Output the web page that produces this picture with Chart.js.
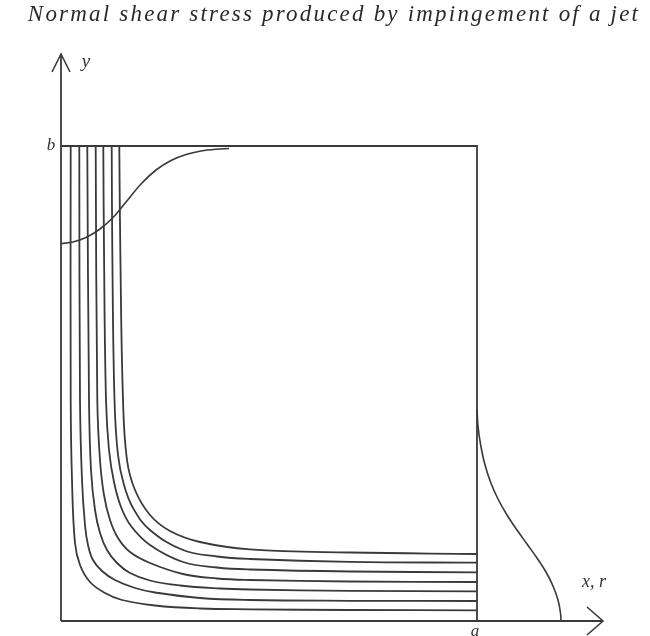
<!DOCTYPE html>
<html>
<head>
<meta charset="utf-8">
<script src="https://cdn.jsdelivr.net/npm/chart.js@4.4.1/dist/chart.umd.min.js"></script>
<style>
  html, body { margin: 0; padding: 0; background: #ffffff; }
  #wrap { width: 650px; height: 636px; position: relative; }
</style>
</head>
<body>
<div id="wrap"><canvas id="c" width="650" height="636"></canvas></div>
<script>
// ---- Data (units: x along plate, y along jet axis; origin at the corner) ----
const titleText = "Normal shear stress produced by impingement of a jet";
const labelA = "a";
const labelB = "b";
const labelY = "y";
const labelXR = "x, r";

const plateA = 416;   // x = a
const heightB = 475;  // y = b

// streamlines, innermost (1) to outermost (7): [x, y] pairs
const streamline1 = [[9.7,475],[9.7,221],[11,141],[14,78],[19,56],[29,39],[44,28],[61,21],[94,15.5],[139,12.5],[189,11.7],[289,11],[416,10.7]];
const streamline2 = [[18.3,475],[19,221],[21,141],[24,96],[27,76],[32,61],[41,50],[54,41],[74,33],[94,28.5],[139,23],[189,21],[289,20.2],[416,20]];
const streamline3 = [[26.3,475],[28,221],[30,151],[34,111],[39,88],[46,71],[56,58],[69,48],[89,40.5],[119,35.5],[159,32.5],[189,31.5],[289,30.2],[416,29.7]];
const streamline4 = [[34.7,475],[36.3,221],[39,161],[43,126],[49,101],[57,83],[69,69],[89,58],[122,47],[156,42.5],[189,41],[289,39.5],[416,39]];
const streamline5 = [[42.3,475],[43,371],[45,221],[48,171],[53,139],[60,114],[70,95],[89,76],[122,59],[156,53.5],[189,51.5],[289,49.5],[416,48.7]];
const streamline6 = [[50.7,475],[51.3,371],[53.5,221],[57,166],[63,136],[72,113],[89,91],[122,71],[156,64.5],[189,62],[289,59.2],[416,58.3]];
const streamline7 = [[58.3,475],[59.3,371],[62,221],[66,161],[74,131],[89,106],[109,90],[139,79],[189,71.7],[289,68.5],[416,67]];

// velocity profile of the jet near y = b
const jetProfile = [[0.5,377.5],[12,379],[25,383.5],[39,392],[52,403.5],[65,419],[80,437],[95,451],[110,460.5],[125,466.5],[140,470],[155,471.8],[168,472.5]];
// wall shear stress profile drawn beyond x = a
const stressProfile = [[416,212],[417,195],[419.5,177],[423.5,158],[429.5,139],[437,122],[446,106],[456,91],[466,77],[476,63],[485,49],[492,35],[497,21],[499.5,8],[500,0]];

// frame and axes
const boxOutline = [[0,heightB],[plateA,heightB],[plateA,0]];
const yAxisLine = [[0,0],[0,567]];
const xAxisLine = [[0,0],[542,0]];
const yArrowHead = [[-9,549],[0,567],[9,549]];
const xArrowHead = [[526,14],[542,0],[526,-14]];

// text label anchors
const labelPositions = {
  b: [-10, 475],
  a: [414, -11],
  y: [25, 559],
  xr: [533, 39]
};

// ---- Chart ----
const ink = '#3a3a3a';
const toXY = arr => arr.map(p => ({x: p[0], y: p[1]}));
function ds(arr, tension, width, mono) {
  const d = {
    data: toXY(arr),
    showLine: true,
    borderColor: ink,
    borderWidth: width,
    pointRadius: 0,
    pointHoverRadius: 0,
    tension: tension,
    fill: false,
    clip: false
  };
  if (mono) d.cubicInterpolationMode = 'monotone';
  return d;
}

const streams = [streamline1, streamline2, streamline3, streamline4, streamline5, streamline6, streamline7];
const datasets = [];
streams.forEach(s => datasets.push(ds(s, 0.4, 1.8, false)));
datasets.push(ds(jetProfile, 0.4, 1.6, true));
datasets.push(ds(stressProfile, 0.4, 1.6, false));
datasets.push(ds(boxOutline, 0, 1.8, false));
datasets.push(ds(yAxisLine, 0, 1.8, false));
datasets.push(ds(xAxisLine, 0, 1.8, false));
datasets.push(ds(yArrowHead, 0, 1.6, false));
datasets.push(ds(xArrowHead, 0, 1.6, false));

const spacingPlugin = {
  id: 'titleSpacing',
  beforeDraw(chart) {
    chart.ctx.letterSpacing = '2.2px';
  },
  afterDraw(chart) {
    chart.ctx.letterSpacing = '0px';
  }
};

const labelPlugin = {
  id: 'labels',
  afterDatasetsDraw(chart) {
    const ctx = chart.ctx;
    const xs = chart.scales.x, ys = chart.scales.y;
    ctx.save();
    ctx.letterSpacing = '0px';
    ctx.fillStyle = '#333';
    ctx.textAlign = 'center';
    ctx.textBaseline = 'middle';
    const put = (txt, pos, size) => {
      ctx.font = 'italic ' + size + 'px "Liberation Serif"';
      ctx.fillText(txt, xs.getPixelForValue(pos[0]), ys.getPixelForValue(pos[1]));
    };
    put(labelB, labelPositions.b, 17);
    put(labelA, labelPositions.a, 17);
    put(labelY, labelPositions.y, 19);
    put(labelXR, labelPositions.xr, 18);
    ctx.restore();
  }
};

new Chart(document.getElementById('c'), {
  type: 'scatter',
  data: { datasets },
  options: {
    responsive: false,
    animation: false,
    events: [],
    layout: { padding: { left: 18, right: 0, top: 0, bottom: 0 } },
    scales: {
      x: { type: 'linear', min: -43, max: 589, display: false },
      y: { type: 'linear', min: -15, max: 591, display: false }
    },
    plugins: {
      legend: { display: false },
      tooltip: { enabled: false },
      title: {
        display: true,
        text: titleText,
        color: '#2a2a2a',
        align: 'center',
        padding: 0,
        font: { family: '"Liberation Serif"', style: 'italic', weight: 'normal', size: 23, lineHeight: '30px' }
      }
    }
  },
  plugins: [spacingPlugin, labelPlugin]
});
</script>
</body>
</html>
